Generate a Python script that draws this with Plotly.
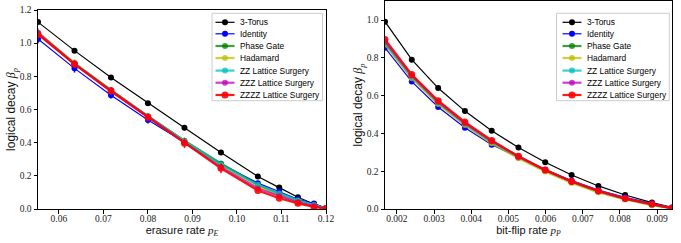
import plotly.graph_objects as go

W, H = 681, 243

# ---------------- data ----------------
names = ["3-Torus", "Identity", "Phase Gate", "Hadamard",
         "ZZ Lattice Surgery", "ZZZ Lattice Surgery", "ZZZZ Lattice Surgery"]

# erasure panel
p_E = [0.0553, 0.0635, 0.0717, 0.0800, 0.0882, 0.0964, 0.1047, 0.1095, 0.1137, 0.1173, 0.1200]
beta_E_torus    = [1.127, 0.955, 0.793, 0.638, 0.490, 0.340, 0.196, 0.129, 0.071, 0.030, 0.005]
beta_E_identity = [1.025, 0.848, 0.686, 0.536, 0.403, 0.271, 0.156, 0.106, 0.059, 0.033, 0.005]
beta_E_phase    = [1.060, 0.878, 0.716, 0.560, 0.412, 0.275, 0.145, 0.090, 0.050, 0.022, 0.004]
beta_E_hadamard = [1.065, 0.880, 0.712, 0.556, 0.405, 0.262, 0.135, 0.082, 0.045, 0.020, 0.004]
beta_E_zz       = [1.058, 0.876, 0.714, 0.558, 0.410, 0.268, 0.146, 0.094, 0.052, 0.024, 0.004]
beta_E_zzz      = [1.062, 0.874, 0.710, 0.552, 0.400, 0.252, 0.124, 0.078, 0.040, 0.017, 0.003]
beta_E_zzzz     = [1.053, 0.874, 0.713, 0.554, 0.397, 0.245, 0.112, 0.065, 0.034, 0.012, 0.003]

err_E_torus    = [0.010, 0.012, 0.012, 0.012, 0.015, 0.015, 0.012, 0.010, 0.008, 0.005, 0.002]
err_E_identity = [0.025, 0.025, 0.020, 0.020, 0.018, 0.015, 0.012, 0.010, 0.008, 0.005, 0.002]
err_E_phase    = [0.020, 0.020, 0.020, 0.018, 0.018, 0.015, 0.012, 0.010, 0.008, 0.005, 0.002]
err_E_hadamard = [0.025, 0.025, 0.020, 0.020, 0.020, 0.018, 0.012, 0.010, 0.008, 0.005, 0.002]
err_E_zz       = [0.020, 0.020, 0.020, 0.018, 0.018, 0.015, 0.012, 0.010, 0.008, 0.005, 0.002]
err_E_zzz      = [0.025, 0.022, 0.020, 0.020, 0.022, 0.020, 0.015, 0.010, 0.008, 0.005, 0.002]
err_E_zzzz     = [0.020, 0.020, 0.020, 0.020, 0.030, 0.030, 0.020, 0.015, 0.010, 0.006, 0.002]

# bit-flip panel
p_P = [0.00168, 0.00240, 0.00311, 0.00383, 0.00455, 0.00527, 0.00599, 0.00670, 0.00742, 0.00814, 0.00886, 0.00940]
beta_P_torus    = [0.991, 0.790, 0.640, 0.518, 0.414, 0.325, 0.247, 0.180, 0.122, 0.074, 0.034, 0.008]
beta_P_identity = [0.853, 0.674, 0.540, 0.430, 0.340, 0.272, 0.208, 0.150, 0.100, 0.062, 0.030, 0.006]
beta_P_phase    = [0.875, 0.697, 0.560, 0.448, 0.352, 0.273, 0.203, 0.143, 0.092, 0.053, 0.022, 0.004]
beta_P_hadamard = [0.870, 0.692, 0.555, 0.444, 0.348, 0.268, 0.198, 0.138, 0.088, 0.050, 0.020, 0.003]
beta_P_zz       = [0.880, 0.702, 0.565, 0.452, 0.357, 0.277, 0.206, 0.146, 0.096, 0.056, 0.025, 0.004]
beta_P_zzz      = [0.888, 0.706, 0.568, 0.455, 0.360, 0.278, 0.206, 0.146, 0.095, 0.055, 0.025, 0.004]
beta_P_zzzz     = [0.897, 0.711, 0.573, 0.460, 0.363, 0.279, 0.207, 0.146, 0.095, 0.055, 0.026, 0.004]

# ---------------- style ----------------
colors = ["#000000", "#0000ff", "#008000", "#bfbf00", "#00bfbf", "#bf00bf", "#ff0000"]
widths = [1.2, 1.2, 2.2, 2.2, 2.2, 2.2, 2.2]
opac = [1.0, 1.0, 0.75, 0.75, 0.75, 0.75, 0.9]
msize = [6, 6, 6, 6, 6, 6, 7]

series_E = [beta_E_torus, beta_E_identity, beta_E_phase, beta_E_hadamard,
            beta_E_zz, beta_E_zzz, beta_E_zzzz]
errs_E = [err_E_torus, err_E_identity, err_E_phase, err_E_hadamard,
          err_E_zz, err_E_zzz, err_E_zzzz]
series_P = [beta_P_torus, beta_P_identity, beta_P_phase, beta_P_hadamard,
            beta_P_zz, beta_P_zzz, beta_P_zzzz]

fig = go.Figure()

for i, name in enumerate(names):
    fig.add_trace(go.Scatter(
        x=p_E, y=series_E[i], name=name, mode="lines+markers",
        line=dict(color=colors[i], width=widths[i]),
        marker=dict(color=colors[i], size=msize[i]),
        error_y=dict(type="data", array=errs_E[i], color=colors[i], thickness=1.5, width=0),
        opacity=opac[i], showlegend=False, xaxis="x", yaxis="y", cliponaxis=True))

for i, name in enumerate(names):
    fig.add_trace(go.Scatter(
        x=p_P, y=series_P[i], name=name, mode="lines+markers",
        line=dict(color=colors[i], width=widths[i]),
        marker=dict(color=colors[i], size=msize[i]),
        opacity=opac[i], showlegend=False, xaxis="x2", yaxis="y2", cliponaxis=True))

def px(x):
    return x / W

def py(y):
    return 1 - y / H

tick_font = dict(family="Liberation Serif", size=9.5, color="#222")
title_font = dict(family="Liberation Sans", size=11, color="#111")
ytitle_font = dict(family="Liberation Sans", size=12, color="#111")
axis_common = dict(showline=True, mirror=True, linecolor="black", linewidth=1,
                   ticks="outside", ticklen=3.5, tickwidth=0.8, tickcolor="black",
                   showgrid=False, zeroline=False, tickfont=tick_font, automargin=False)

serif = "font-family:Liberation Serif"
fig.update_layout(
    width=W, height=H, margin=dict(l=0, r=0, t=0, b=0),
    paper_bgcolor="white", plot_bgcolor="white",
    xaxis=dict(domain=[px(38), px(326)], range=[0.0553, 0.12],
               tickvals=[0.06, 0.07, 0.08, 0.09, 0.10, 0.11, 0.12], tickformat=".2f",
               ticklabelstandoff=-3,
               title=dict(text=f"erasure rate <span style='{serif}'><i>p</i><sub><i>E</i></sub></span>",
                          font=title_font, standoff=2),
               anchor="y", **axis_common),
    yaxis=dict(domain=[py(209), py(10)], range=[0, 1.2], dtick=0.2, tickformat=".1f",
               title=dict(text=f"logical decay <span style='{serif}'><i>β</i><sub><i>p</i></sub></span>",
                          font=ytitle_font, standoff=1),
               anchor="x", **axis_common),
    xaxis2=dict(domain=[px(385), px(672)], range=[0.00168, 0.0094],
                tick0=0.002, dtick=0.001, tickformat=".3f",
                ticklabelstandoff=-3,
                title=dict(text=f"bit-flip rate <span style='{serif}'><i>p</i><sub><i>P</i></sub></span>",
                           font=title_font, standoff=2),
                anchor="y2", **axis_common),
    yaxis2=dict(domain=[py(209), py(1)], range=[0, 1.1005], dtick=0.2, tickformat=".1f",
                title=dict(text=f"logical decay <span style='{serif}'><i>β</i><sub><i>p</i></sub></span>",
                           font=ytitle_font, standoff=1),
                anchor="x2", **axis_common),
)

# ---------------- manual legends (compact, matplotlib-like) ----------------
rows = [22.3, 33.8, 46.0, 58.0, 70.6, 82.7, 95.0]
shapes = []
annotations = []

def add_legend(bx0, by0, bx1, by1, lx0, lx1, tx):
    shapes.append(dict(type="rect", xref="paper", yref="paper",
                       x0=px(bx0), x1=px(bx1), y0=py(by1), y1=py(by0),
                       line=dict(color="#cccccc", width=1),
                       fillcolor="rgba(255,255,255,0.85)", layer="above"))
    for i, name in enumerate(names):
        yy = rows[i]
        shapes.append(dict(type="line", xref="paper", yref="paper",
                           x0=px(lx0), x1=px(lx1), y0=py(yy), y1=py(yy),
                           line=dict(color=colors[i], width=widths[i]),
                           opacity=opac[i], layer="above"))
        r = msize[i] / 2
        cx = (lx0 + lx1) / 2
        shapes.append(dict(type="circle", xref="paper", yref="paper",
                           x0=px(cx - r), x1=px(cx + r), y0=py(yy + r), y1=py(yy - r),
                           line=dict(width=0), fillcolor=colors[i],
                           opacity=opac[i], layer="above"))
        annotations.append(dict(text=name, xref="paper", yref="paper",
                                x=px(tx), y=py(yy), xanchor="left", yanchor="middle",
                                showarrow=False, borderpad=0,
                                font=dict(family="Liberation Sans", size=8.4, color="black")))

add_legend(212, 13.3, 322.5, 100.7, 215.5, 234.5, 238.5)
add_legend(556.5, 13.3, 669.3, 100.7, 562.5, 581.5, 586)

fig.update_layout(shapes=shapes, annotations=annotations)

fig.write_html("out.html", config={"displayModeBar": False},
               post_script="document.body.style.margin='0';document.body.style.padding='0';")
